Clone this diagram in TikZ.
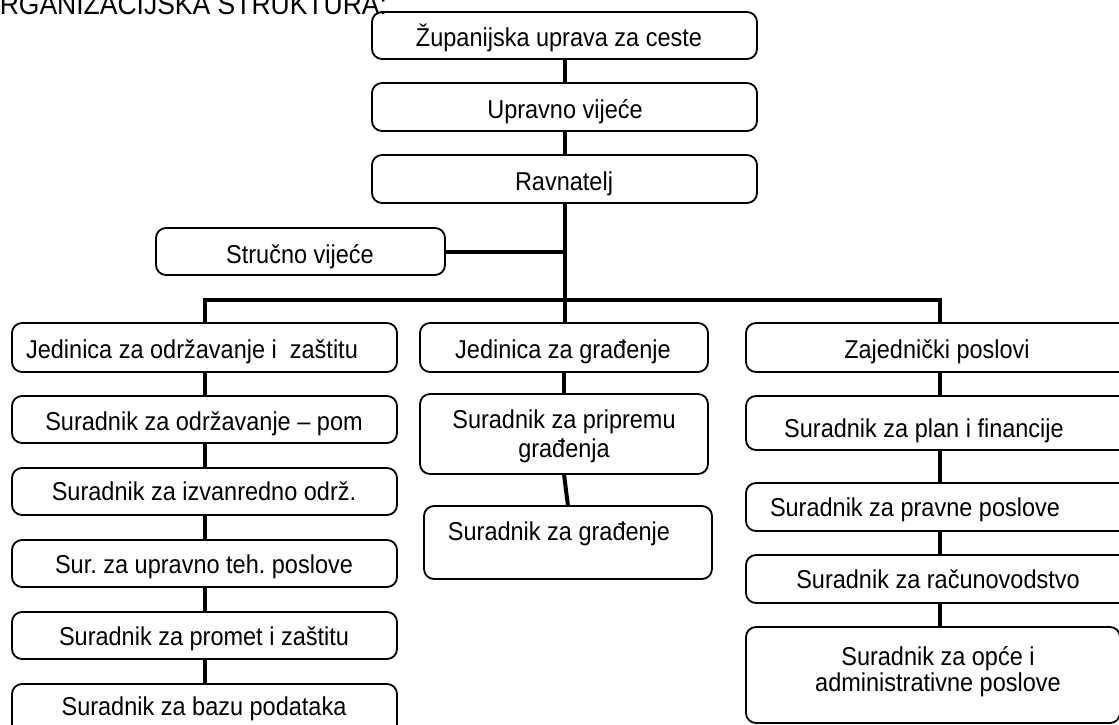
\documentclass[tikz,border=0pt]{standalone}
\usepackage{fontspec}
\setmainfont{Liberation Sans}
\usepackage{graphicx}
\newcommand{\T}[1]{\scalebox{1}[1.1]{#1}}
\tikzset{
  box/.style={draw, fill=white, line width=1.8pt, rounded corners=10pt, rectangle, inner sep=0pt, outer sep=0pt},
  conn/.style={line width=4pt},
  lbl/.style={inner sep=0pt, outer sep=0pt, font=\fontsize{23.5pt}{29pt}\selectfont\frenchspacing, anchor=base},
}
\newcommand{\bx}[5]{\node[box,minimum width={(#4-#2)*1pt},minimum height={(#5-#3)*1pt}] (#1) at ({(#2+#4)/2},{(#3+#5)/2}) {};}
\begin{document}
\begin{tikzpicture}[x=1pt,y=-1pt]
\useasboundingbox (0,0) rectangle (1119,725);
\clip (0,0) rectangle (1119,725);
\coordinate (bar) at (0,300);
\bx{zup}{372}{12}{757}{59}
\bx{uv}{372}{83}{757}{131}
\bx{rav}{372}{155}{757}{203}
\bx{str}{156}{228}{445}{275}
\bx{jod}{12}{323}{397}{372}
\bx{pom}{12}{396}{397}{443}
\bx{izv}{12}{468}{397}{515}
\bx{upr}{12}{540}{397}{587}
\bx{pro}{12}{612}{397}{659}
\bx{baz}{12}{684}{397}{745}
\bx{jgr}{420}{323}{708}{372}
\bx{pri}{420}{394}{708}{474}
\bx{gra}{424}{506}{712}{579}
\bx{zaj}{746}{323}{1134}{372}
\bx{fin}{746}{396}{1134}{450}
\bx{pra}{746}{483}{1134}{531}
\bx{rac}{746}{555}{1134}{603}
\bx{opc}{746}{627}{1120}{723}
\draw[conn] (zup.south) -- (uv.north);
\draw[conn] (uv.south) -- (rav.north);
\draw[conn] (rav.south) -- (rav.south |- jgr.north);
\draw[conn] (str.east) -- (str.east -| rav.south);
\draw[conn] (jod.north) -- (jod.north |- bar) -- (zaj.north |- bar) -- (zaj.north);
\draw[conn] (jod.south) -- (pom.north);
\draw[conn] (pom.south) -- (izv.north);
\draw[conn] (izv.south) -- (upr.north);
\draw[conn] (upr.south) -- (pro.north);
\draw[conn] (pro.south) -- (baz.north);
\draw[conn] (jgr.south) -- (pri.north);
\draw[conn] (pri.south) -- (gra.north);
\draw[conn] (zaj.south) -- (fin.north);
\draw[conn] (fin.south) -- (pra.north);
\draw[conn] (pra.south) -- (rac.north);
\draw[conn] (rac.south) -- (rac.south |- opc.north);
% texts
\node[lbl, anchor=base east, font=\fontsize{26.5pt}{30pt}\selectfont] (title) at (387,15) {\T{ORGANIZACIJSKA STRUKTURA:}};
\node[lbl] (tzup) at (559,47) {\T{Županijska uprava za ceste}};
\node[lbl] (tuv) at (565,118) {\T{Upravno vijeće}};
\node[lbl] (trav) at (564,190) {\T{Ravnatelj}};
\node[lbl] (tstr) at (300,263) {\T{Stručno vijeće}};
\node[lbl] (tjod) at (192,358) {\T{Jedinica za održavanje i~ zaštitu}};
\node[lbl] (tpom) at (204,430) {\T{Suradnik za održavanje – pom}};
\node[lbl] (tizv) at (204,500) {\T{Suradnik za izvanredno održ.}};
\node[lbl] (tupr) at (204,573) {\T{Sur. za upravno teh. poslove}};
\node[lbl] (tpro) at (204,645) {\T{Suradnik za promet i zaštitu}};
\node[lbl] (tbaz) at (204,715) {\T{Suradnik za bazu podataka}};
\node[lbl] (tjgr) at (563,358) {\T{Jedinica za građenje}};
\node[lbl, align=center] (tpri) at (564,457) {\T{Suradnik za pripremu}\\\T{građenja}};
\node[lbl] (tgra) at (559,540) {\T{Suradnik za građenje}};
\node[lbl] (tzaj) at (937,358) {\T{Zajednički poslovi}};
\node[lbl] (tfin) at (924,437) {\T{Suradnik za plan i financije}};
\node[lbl] (tpra) at (915,516) {\T{Suradnik za pravne poslove}};
\node[lbl] (trac) at (938,588) {\T{Suradnik za računovodstvo}};
\node[lbl, align=center, font=\fontsize{23.5pt}{26pt}\selectfont] (topc) at (938,691) {\T{Suradnik za opće i}\\\T{administrativne poslove}};
\end{tikzpicture}
\end{document}
